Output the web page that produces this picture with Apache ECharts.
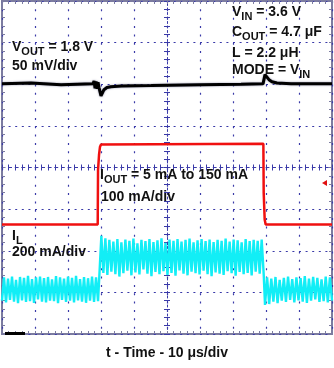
<!DOCTYPE html>
<html><head><meta charset="utf-8">
<script src="https://cdn.jsdelivr.net/npm/echarts@6/dist/echarts.min.js"></script>
<style>html,body{margin:0;padding:0;background:#fff}#c{width:334px;height:368px}</style>
</head><body><div id="c"></div>
<script>
// time in microseconds (10 us/div), amplitude in screen divisions from centre
const voutT = [-50, -41.2, -32.1, -22.4, -22.1, -21.8, -21.5, -21.2, -20.9, -20.6, -20.0, -19.7, -19.1, -18.2, -17.0, -13.9, -4.8, 10.3, 22.4, 29.1, 29.7, 30.3, 30.9, 31.8, 33.3, 37.6, 50];
const voutV = [2.01, 2.03, 1.99, 2.01, 2.08, 1.90, 2.07, 1.89, 2.05, 1.92, 1.72, 1.76, 1.87, 1.92, 1.94, 1.96, 1.97, 1.99, 2.00, 2.01, 2.23, 2.17, 2.11, 2.06, 2.03, 2.01, 2.01];

const ioutT = [-50, -21.0, -20.9, -20.6, -20.3, -20.0, -19.4, 29.2, 29.3, 29.6, 29.9, 50];
const ioutV = [-1.37, -1.37, -0.07, 0.30, 0.50, 0.55, 0.57, 0.57, -0.60, -1.25, -1.37, -1.37];

// inductor current ripple: alternating valley / peak values per segment
const ilSegStart = [-50, -20.5, 29.7];
const ilSegEnd = [-20.9, 29.3, 50];
const ilLow1 = [-3.20,-2.64,-3.24,-2.67,-3.18,-2.62,-3.22,-2.70,-3.26,-2.63,-3.19,-2.65,-3.23,-2.60,-3.21,-2.68,-3.25,-2.64,-3.17,-2.62,-3.22,-2.66,-3.24,-2.63,-3.20,-2.69,-3.21,-2.61,-3.26,-2.64,-3.18,-2.67,-3.23,-2.62,-3.20,-2.65,-3.24,-2.60,-3.19,-2.68,-3.22,-2.63,-3.25,-2.66,-3.20,-2.62,-3.23,-2.64,-3.21];
const ilHigh = [-2.60,-1.64,-2.53,-1.70,-2.58,-1.74,-2.50,-1.78,-2.56,-1.72,-2.62,-1.80,-2.54,-1.73,-2.48,-1.76,-2.59,-1.71,-2.52,-1.82,-2.57,-1.74,-2.45,-1.77,-2.55,-1.72,-2.61,-1.79,-2.51,-1.75,-2.56,-1.70,-2.49,-1.81,-2.58,-1.73,-2.53,-1.76,-2.60,-1.72,-2.47,-1.78,-2.55,-1.74,-2.59,-1.71,-2.50,-1.80,-2.54,-1.75,-2.57,-1.72,-2.48,-1.77,-2.56,-1.73,-2.61,-1.79,-2.52,-1.74,-2.55,-1.76,-2.58,-1.71,-2.49,-1.78,-2.54,-1.73,-2.60,-1.75,-2.51,-1.80,-2.56,-1.72,-2.53,-1.77,-2.59,-1.74,-2.50,-1.76,-2.55,-1.73,-2.56];
const ilLow2 = [-3.30,-2.64,-3.28,-2.67,-3.22,-2.63,-3.26,-2.70,-3.20,-2.65,-3.23,-2.62,-3.18,-2.68,-3.24,-2.64,-3.19,-2.66,-3.22,-2.61,-3.25,-2.67,-3.20,-2.63,-3.17,-2.65,-3.23,-2.69,-3.21,-2.62,-3.24,-2.64,-3.20];

const GRID = '#3a3aa8';
const FRAME = '#7c7ca0';
const FF = '"Liberation Sans", Arial, sans-serif';

function pairs(t, v) { return t.map((x, i) => [x, v[i]]); }
function spread(s, e, vals) { return vals.map((v, i) => [s + (e - s) * i / (vals.length - 1), v]); }
const ilData = [].concat(
  spread(ilSegStart[0], ilSegEnd[0], ilLow1),
  spread(ilSegStart[1], ilSegEnd[1], ilHigh),
  spread(ilSegStart[2], ilSegEnd[2], ilLow2));

function xAx(extra) {
  return Object.assign({type: 'value', min: -50, max: 50, interval: 10, axisLabel: {show: false}, splitLine: {show: false}}, extra);
}
function yAx(extra) {
  return Object.assign({type: 'value', min: -4, max: 4, interval: 1, axisLabel: {show: false}, splitLine: {show: false}}, extra);
}
const tk = (inside, color) => ({show: true, inside: inside, length: 3, lineStyle: {color: color, width: 1}});
const mtk = (color) => ({show: true, splitNumber: 5, length: 3, lineStyle: {color: color, width: 1}});

const R = {
  m: {fontSize: 14, fontWeight: 'bold', fontFamily: FF, lineHeight: 20, fill: '#111'},
  s: {fontSize: 11, fontWeight: 'bold', fontFamily: FF, lineHeight: 11, verticalAlign: 'bottom', fill: '#111'}
};
function lab(x, y, text, align) {
  return {type: 'text', x: x, y: y, z: 100, silent: true,
    style: {text: text, rich: R, align: align || 'left', verticalAlign: 'middle', fill: '#111', fontFamily: FF, fontSize: 14, fontWeight: 'bold'}};
}

const chart = echarts.init(document.getElementById('c'));
chart.setOption({
  animation: false,
  grid: {left: 2, top: 1, width: 330, height: 333, show: true, borderColor: FRAME, borderWidth: 2},
  xAxis: [
    xAx({position: 'bottom', axisLine: {show: true, onZero: true, onZeroAxisIndex: 0, lineStyle: {color: GRID, width: 1, type: [3, 3.6]}},
      axisTick: tk(true, GRID), minorTick: mtk(GRID),
      splitLine: {show: true, lineStyle: {color: GRID, width: 1.2, type: [2, 6.35]}}}),
    xAx({position: 'bottom', axisLine: {show: false, onZero: true, onZeroAxisIndex: 0}, axisTick: tk(false, GRID), minorTick: mtk(GRID)}),
    xAx({position: 'bottom', axisLine: {show: false, onZero: false}, axisTick: tk(true, FRAME), minorTick: mtk(FRAME)}),
    xAx({position: 'top', axisLine: {show: false, onZero: false}, axisTick: tk(true, FRAME), minorTick: mtk(FRAME)})
  ],
  yAxis: [
    yAx({position: 'left', axisLine: {show: true, onZero: true, onZeroAxisIndex: 0, lineStyle: {color: GRID, width: 1, type: [2, 2.5]}},
      axisTick: tk(true, GRID), minorTick: mtk(GRID),
      splitLine: {show: true, lineStyle: {color: GRID, width: 1.2, type: [2, 4.6]}}}),
    yAx({position: 'left', axisLine: {show: false, onZero: true, onZeroAxisIndex: 0}, axisTick: tk(false, GRID), minorTick: mtk(GRID)}),
    yAx({position: 'left', axisLine: {show: false, onZero: false}, axisTick: tk(true, FRAME), minorTick: mtk(FRAME)}),
    yAx({position: 'right', axisLine: {show: false, onZero: false}, axisTick: tk(true, FRAME), minorTick: mtk(FRAME)})
  ],
  series: [
    {type: 'line', name: 'IL', data: ilData, xAxisIndex: 0, yAxisIndex: 0, showSymbol: false, symbol: 'none',
      lineStyle: {color: '#12eef6', width: 2.4}, z: 3},
    {type: 'line', name: 'IOUT', data: pairs(ioutT, ioutV), xAxisIndex: 0, yAxisIndex: 0, showSymbol: false, symbol: 'none',
      lineStyle: {color: '#f01010', width: 2.5}, z: 4},
    {type: 'line', name: 'VOUT', data: pairs(voutT, voutV), xAxisIndex: 0, yAxisIndex: 0, showSymbol: false, symbol: 'none',
      lineStyle: {color: '#000', width: 3, shadowColor: 'rgba(90,90,130,0.7)', shadowBlur: 2}, z: 5}
  ],
  graphic: [
    lab(12, 47, '{m|V}{s|OUT}{m| = 1.8 V}'),
    lab(12, 66, '{m|50 mV/div}'),
    lab(232, 12, '{m|V}{s|IN}{m| = 3.6 V}'),
    lab(232, 32, '{m|C}{s|OUT}{m| = 4.7 μF}'),
    lab(232, 53, '{m|L = 2.2 μH}'),
    lab(232, 70, '{m|MODE = V}{s|IN}'),
    lab(100, 175, '{m|I}{s|OUT}{m| = 5 mA to 150 mA}'),
    lab(101, 197, '{m|100 mA/div}'),
    lab(12, 236, '{m|I}{s|L}'),
    lab(12, 252, '{m|200 mA/div}'),
    lab(167, 353, '{m|t - Time - 10 μs/div}', 'center'),
    {type: 'polygon', z: 100, silent: true, shape: {points: [[322, 183], [327, 180], [327, 186]]}, style: {fill: '#e01010'}},
    {type: 'rect', z: 100, silent: true, shape: {x: 5, y: 332, width: 20, height: 3}, style: {fill: '#000'}}
  ]
});
</script>
</body></html>
